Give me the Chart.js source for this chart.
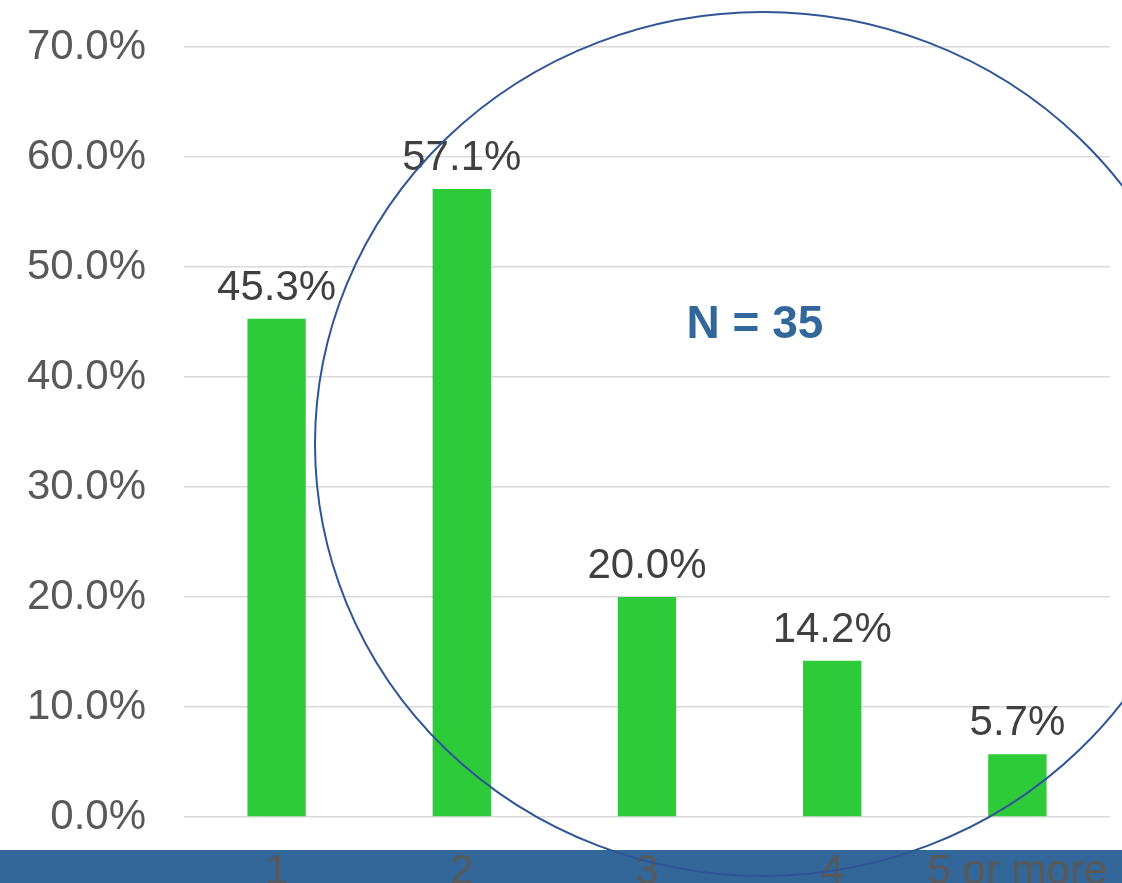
<!DOCTYPE html>
<html>
<head>
<meta charset="utf-8">
<script src="https://cdn.jsdelivr.net/npm/chart.js@4"></script>
<style>
  html, body { margin: 0; padding: 0; background: #fff; overflow: hidden; }
  #wrap { width: 1122px; height: 893px; }
</style>
</head>
<body>
<div id="wrap"><canvas id="chart"></canvas></div>
<script>
// Household size shares
const categories = ["1", "2", "3", "4", "5 or more"];
const shares = [45.3, 57.1, 20.0, 14.2, 5.7];
const sampleLabel = "N = 35";

const FONT = "'Liberation Sans', Arial, sans-serif";

// blue strip behind the category labels
const bandPlugin = {
    id: 'band',
    beforeDraw(chart) {
        const ctx = chart.ctx;
        ctx.save();
        ctx.fillStyle = '#336799';
        ctx.fillRect(0, 850, chart.width, chart.height - 850);
        ctx.restore();
    }
};

// percent labels over each bar
const valueLabels = {
    id: 'valueLabels',
    afterDatasetsDraw(chart) {
        const ctx = chart.ctx;
        const meta = chart.getDatasetMeta(0);
        ctx.save();
        ctx.font = '42px ' + FONT;
        ctx.fillStyle = '#404040';
        ctx.textAlign = 'center';
        ctx.textBaseline = 'alphabetic';
        meta.data.forEach((bar, i) => {
            ctx.fillText(shares[i].toFixed(1) + '%', bar.x, bar.y - 19);
        });
        ctx.restore();
    }
};

// sample size note and the ring drawn round it
const notePlugin = {
    id: 'note',
    afterDraw(chart) {
        const ctx = chart.ctx;
        const area = chart.chartArea;
        ctx.save();
        ctx.font = 'bold 46px ' + FONT;
        ctx.fillStyle = '#31679A';
        ctx.textAlign = 'center';
        ctx.textBaseline = 'middle';
        ctx.fillText(sampleLabel, area.left + 571, 325);

        ctx.strokeStyle = '#2F5597';
        ctx.lineWidth = 2;
        ctx.beginPath();
        ctx.ellipse(area.left + 579, 444, 448, 432, 0, 0, Math.PI * 2);
        ctx.stroke();
        ctx.restore();
    }
};

new Chart(document.getElementById('chart'), {
    type: 'bar',
    data: {
        labels: categories,
        datasets: [{
            data: shares,
            backgroundColor: '#2DCA39',
            borderWidth: 0,
            categoryPercentage: 1,
            barPercentage: 0.315
        }]
    },
    options: {
        responsive: true,
        maintainAspectRatio: false,
        animation: false,
        layout: {
            padding: { left: 27, right: 12, top: 47, bottom: 0 }
        },
        plugins: {
            legend: { display: false },
            tooltip: { enabled: false }
        },
        scales: {
            x: {
                grid: { display: false, drawTicks: false },
                border: { display: false },
                ticks: {
                    color: '#595959',
                    padding: 30,
                    autoSkip: false,
                    maxRotation: 0,
                    minRotation: 0,
                    font: { family: FONT, size: 42 }
                },
                // keep the last label from pulling the plot inwards
                afterFit(scale) {
                    scale.height = 76;
                    scale.paddingLeft = 0;
                    scale.paddingRight = 0;
                }
            },
            y: {
                min: 0,
                max: 70,
                grid: { color: '#D9D9D9', lineWidth: 1.5, drawTicks: false },
                border: { display: false },
                ticks: {
                    stepSize: 10,
                    padding: 38,
                    color: '#595959',
                    font: { family: FONT, size: 42 },
                    callback: v => v.toFixed(1) + '%'
                },
                afterFit(scale) {
                    scale.width = 157;
                    scale.paddingTop = 0;
                    scale.paddingBottom = 0;
                }
            }
        }
    },
    plugins: [bandPlugin, valueLabels, notePlugin]
});
</script>
</body>
</html>
